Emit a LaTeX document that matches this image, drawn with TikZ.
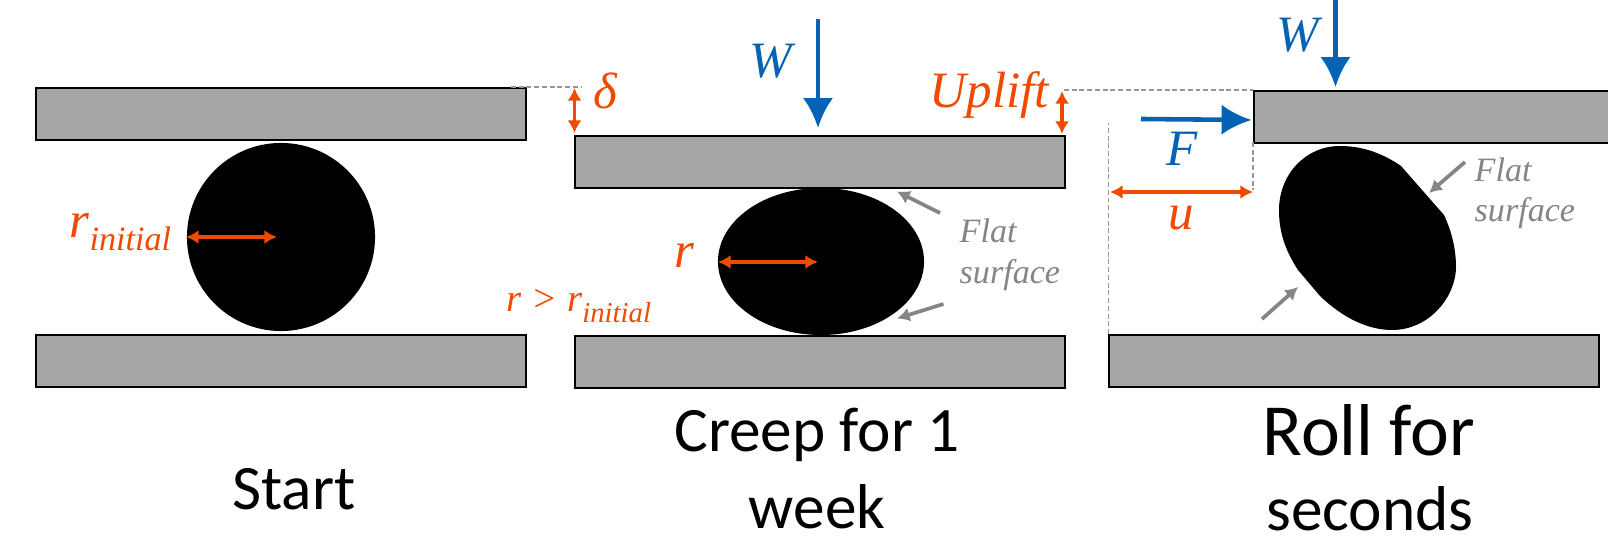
\documentclass[tikz,border=0pt]{standalone}
\usepackage{fontspec}
\setmainfont{Liberation Serif}
\newfontfamily\capfont{Carlito}
\usetikzlibrary{arrows.meta,shapes.geometric}
\definecolor{plategray}{HTML}{A6A6A6}
\definecolor{loadblue}{HTML}{0563B5}
\definecolor{dimorange}{HTML}{F04A00}
\definecolor{notegray}{HTML}{858585}
\tikzset{
    plate/.style={draw=black, line width=0.5pt, fill=plategray, minimum width=4.9cm, minimum height=0.52cm, inner sep=0pt, anchor=north west},
    load/.style={loadblue, line width=1.3pt, -{Latex[length=8.5pt,width=8.6pt]}},
    dim/.style={dimorange, line width=1.05pt, {Latex[length=3.6pt,width=4pt]}-{Latex[length=3.6pt,width=4pt]}},
    note/.style={notegray, line width=1.05pt, -{Latex[length=3.6pt,width=4pt]}},
    guide/.style={notegray!85, line width=0.35pt, dash pattern=on 1.4pt off 0.8pt},
    lab/.style={inner sep=0pt, anchor=base west, font=\itshape\fontsize{14.5}{17}\selectfont},
    loadlab/.style={lab, text=loadblue},
    dimlab/.style={lab, text=dimorange},
    notelab/.style={lab, text=notegray, font=\itshape\fontsize{9.7}{11}\selectfont},
    caption/.style={inner sep=0pt, anchor=base, font=\capfont\fontsize{18}{21}\selectfont},
}
\newcommand{\subinit}[1]{\raisebox{#1}{\fontsize{9.7}{11}\selectfont initial}}
\begin{document}
\begin{tikzpicture}[x=0.01cm, y=-0.01cm]
    \clip (0,0) rectangle (1608,540);
    \fill[white] (0,0) rectangle (1608,540);

    \node[plate] (topA) at (35,87) {};
    \node[plate] (botA) at (35,334) {};
    \node[plate] (topB) at (574,135) {};
    \node[plate] (botB) at (574,335) {};
    \node[plate] (topC) at (1253,90) {};
    \node[plate] (botC) at (1108,334) {};

    \node[circle, fill=black, minimum size=1.88cm, inner sep=0pt] (ballA) at (281,237) {};
    \node[ellipse, fill=black, minimum width=2.06cm, minimum height=1.47cm, inner sep=0pt] (ballB) at (821,261.5) {};
    \fill[black] (1401,166) -- (1444,215)
        .. controls (1452,232) and (1456,250) .. (1456,267)
        .. controls (1456,296) and (1430,330) .. (1392,330)
        .. controls (1368,330) and (1343,318) .. (1320,296) -- (1298,270)
        .. controls (1285,250) and (1279,232) .. (1279,210)
        .. controls (1279,175) and (1305,146) .. (1340,146)
        .. controls (1365,146) and (1385,155) .. (1401,166) -- cycle;

    \coordinate (gapAl) at (511,87);
    \coordinate (gapAr) at (582,87);
    \coordinate (gapBl) at (1064,90);
    \coordinate (uBot) at (1108.5,334);
    \coordinate (uTop) at (1108.5,123);
    \coordinate (cornerC) at (1253,142);
    \coordinate (uEnd) at (1253,190);
    \draw[guide] (gapAl) -- (gapAr);
    \draw[guide] (gapBl) -- (topC.north west);
    \draw[guide] (uBot) -- (uTop);
    \draw[guide] (cornerC) -- (uEnd);

    \coordinate (wBfree) at (818,19);
    \coordinate (wBtip) at (818,128);
    \coordinate (wCfree) at (1335.5,-2);
    \coordinate (wCtip) at (1335.5,87);
    \coordinate (fFree) at (1141,119);
    \coordinate (fTip) at (1251.5,120);
    \draw[load] (wBfree) -- (wBtip);
    \draw[load] (wCfree) -- (wCtip);
    \draw[load] (fFree) -- (fTip);

    \coordinate (rAl) at (186,237);
    \coordinate (rAr) at (277,237);
    \coordinate (rBl) at (718,262);
    \coordinate (rBr) at (818,262);
    \coordinate (dTop) at (574.5,88);
    \coordinate (dBot) at (574.5,133);
    \coordinate (upTop) at (1062,91);
    \coordinate (upBot) at (1062,134);
    \coordinate (uL) at (1110,192);
    \coordinate (uR) at (1253,192);
    \draw[dim] (rAl) -- (rAr);
    \draw[dim] (rBl) -- (rBr);
    \draw[dim] (dTop) -- (dBot);
    \draw[dim] (upTop) -- (upBot);
    \draw[dim] (uL) -- (uR);

    \coordinate (n1s) at (940,213);
    \coordinate (n1e) at (897,191.5);
    \coordinate (n2s) at (943.5,304);
    \coordinate (n2e) at (897,318.5);
    \coordinate (n3s) at (1465,162);
    \coordinate (n3e) at (1429,193);
    \coordinate (n4s) at (1262,319);
    \coordinate (n4e) at (1298,287);
    \draw[note] (n1s) -- (n1e);
    \draw[note] (n2s) -- (n2e);
    \draw[note] (n3s) -- (n3e);
    \draw[note] (n4s) -- (n4e);

    \node[dimlab] (rinit) at (69,237.5) {r\subinit{-3.7pt}};
    \node[dimlab] (rmid) at (674,268) {r};
    \node[dimlab, font=\itshape\fontsize{11}{13}\selectfont] (rcmp) at (506,312) {r \textgreater{} r\raisebox{-3pt}{\fontsize{8.2}{10}\selectfont initial}};
    \node[dimlab] (delta) at (593,109) {δ};
    \node[dimlab] (uplift) at (929,108) {Uplift};
    \node[dimlab] (ulab) at (1168,230) {u};
    \node[loadlab] (wB) at (749,78) {W};
    \node[loadlab] (wC) at (1276,52) {W};
    \node[loadlab] (flab) at (1166,166) {F};
    \node[notelab] (flatB) at (959,243) {Flat};
    \node[notelab] (surfB) at (959,284) {surface};
    \node[notelab] (flatC) at (1474,182) {Flat};
    \node[notelab] (surfC) at (1474,221.5) {surface};

    \node[caption] (start) at (294,510) {Start};
    \node[caption] (creep) at (817,452) {Creep for 1};
    \node[caption] (week) at (817,529) {week};
    \node[caption, font=\capfont\fontsize{20.9}{24}\selectfont] (roll) at (1369,456) {Roll for};
    \node[caption] (seconds) at (1370,531) {seconds};
\end{tikzpicture}
\end{document}
